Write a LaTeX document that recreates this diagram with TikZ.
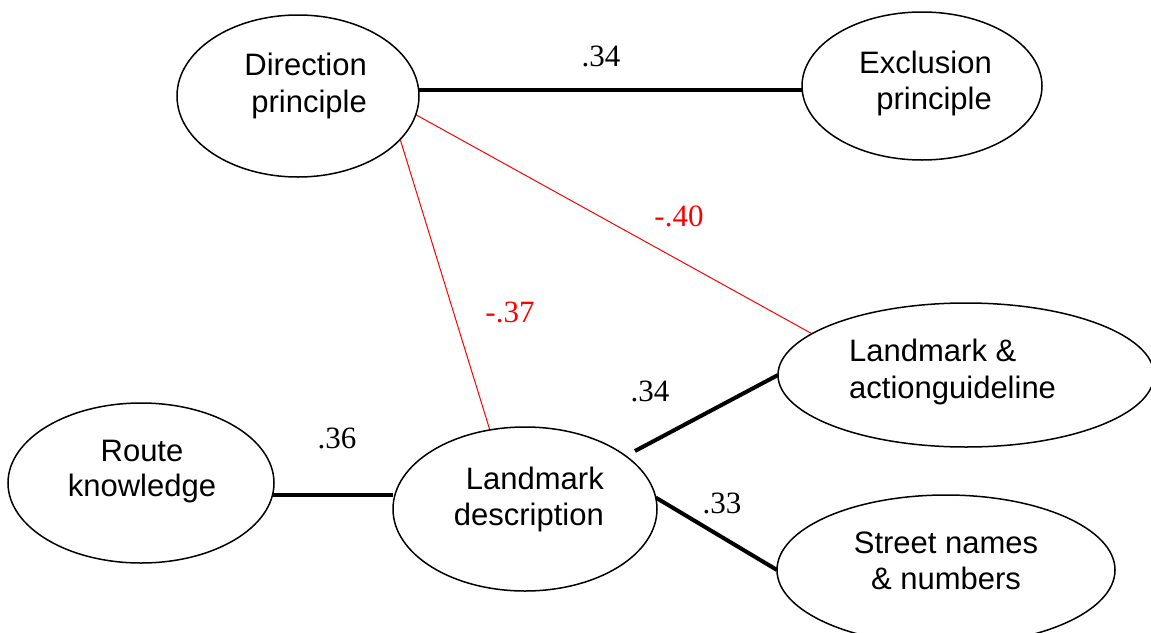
\documentclass[tikz,border=0pt]{standalone}
\usepackage{fontspec}
\setmainfont{Liberation Serif}
\setsansfont{Liberation Sans}
\usetikzlibrary{shapes.geometric,backgrounds}
\begin{document}
\begin{tikzpicture}[x=1pt,y=-1pt,
  bubble/.style={ellipse,draw,line width=1.5pt,fill=white,inner sep=0pt,outer sep=0pt},
  lbl/.style={font=\sffamily\fontsize{31}{37}\selectfont,inner sep=0pt},
  coef/.style={font=\rmfamily\fontsize{31}{37}\selectfont,inner sep=0pt,anchor=base},
  poslink/.style={line width=4pt},
  neglink/.style={line width=1pt,red},
]
\useasboundingbox (0,0) rectangle (1151,632);

% factors
\node[bubble,minimum width=242pt,minimum height=162pt] (dp)  at (298,96)  {};
\node[bubble,minimum width=240pt,minimum height=148pt] (ep)  at (922,86)  {};
\node[bubble,minimum width=376pt,minimum height=144pt] (lla) at (966,375) {};
\node[bubble,minimum width=266pt,minimum height=160pt] (rk)  at (141,483) {};
\node[bubble,minimum width=264pt,minimum height=164pt] (ld)  at (525,509) {};
\node[bubble,minimum width=338pt,minimum height=150pt] (sn)  at (946,570) {};

% factor names
\node[lbl,anchor=base east] (dp1) at (367,75)  {Direction};
\node[lbl,anchor=base east] (dp2) at (367,112) {principle};
\node[lbl,anchor=base east] (ep1) at (992,73)  {Exclusion};
\node[lbl,anchor=base east] (ep2) at (992,109) {principle};
\node[lbl,anchor=base west] (lla1) at (849,361) {Landmark \&};
\node[lbl,anchor=base west] (lla2) at (849,398) {actionguideline};
\node[lbl,anchor=base] (rk1) at (142,461) {Route};
\node[lbl,anchor=base] (rk2) at (142,496) {knowledge};
\node[lbl,anchor=base east] (ld1) at (604,489) {Landmark};
\node[lbl,anchor=base east] (ld2) at (604,525) {description};
\node[lbl,anchor=base] (sn1) at (946,553) {Street names};
\node[lbl,anchor=base] (sn2) at (946,589) {\& numbers};

% correlations
\coordinate (c1) at (635,451);
\begin{scope}[on background layer]
  \draw[poslink] (dp.3) -- (dp.3 -| ep.west);
  \draw[poslink] (rk.-5) -- (rk.-5 -| ld.west);
  \draw[poslink] (c1) -- (lla.west);
  \draw[poslink] (ld.5) -- (sn.west);
  \draw[neglink] (dp.-23) -- (ld.114);
  \draw[neglink] (dp.-9) -- (lla.165);
\end{scope}

% coefficients
\node[coef] (k1) at (601,66)  {.34};
\node[coef] (k2) at (337,448) {.36};
\node[coef] (k3) at (650,401) {.34};
\node[coef] (k4) at (722,513) {.33};
\node[coef,red] (k5) at (679,226) {-.40};
\node[coef,red] (k6) at (510,322) {-.37};
\end{tikzpicture}
\end{document}
